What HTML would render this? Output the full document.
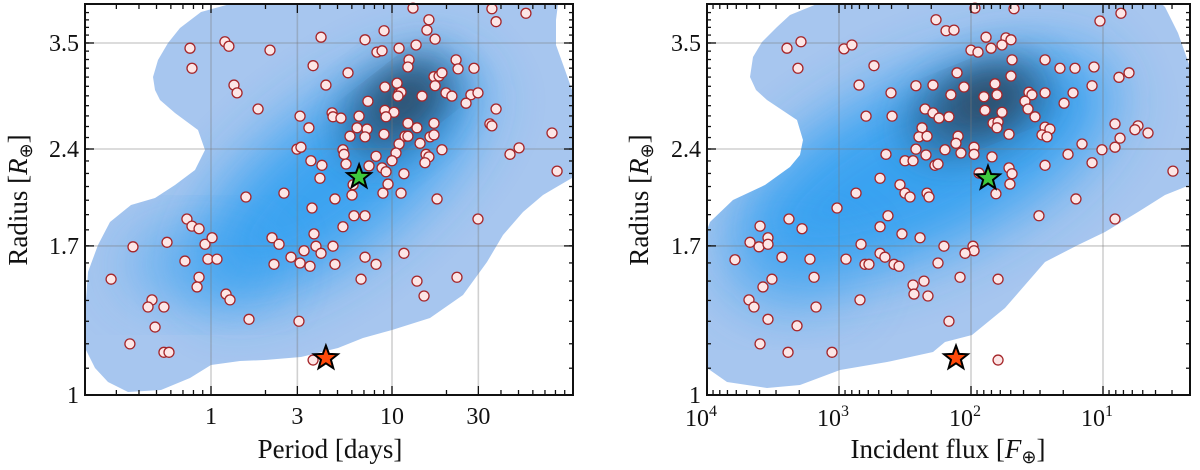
<!DOCTYPE html>
<html><head><meta charset="utf-8"><style>
html,body{margin:0;padding:0;background:#fff;}
svg{display:block;font-family:"Liberation Serif",serif;}
</style></head><body>
<svg id="chart" width="1200" height="470" viewBox="0 0 1200 470" xmlns="http://www.w3.org/2000/svg">
<defs>
<filter id="b35" x="-50%" y="-50%" width="200%" height="200%"><feGaussianBlur stdDeviation="30"/></filter>
<filter id="b22" x="-50%" y="-50%" width="200%" height="200%"><feGaussianBlur stdDeviation="20"/></filter>
<clipPath id="clipL"><polygon points="230,4 201,12 180,28 168,43 158,60 153,77 155,90 160,100 175,113 198,130 205,150 195,170 175,185 155,198 131,205 110,222 98,245 88,272 86,300 86,350 95,368 108,382 128,392 161,390 190,378 211,365 240,361 265,360 301,357 338,348 363,338 392,330 430,318 463,295 487,262 503,235 523,212 543,195 560,185 572,178 572,90 565,70 556,45 556,20 558,4"/></clipPath>
<clipPath id="clipR"><polygon points="817,4 790,15 777,27 762,42 753,57 750,77 756,90 767,100 785,112 797,120 803,140 800,155 790,167 765,185 733,200 710,222 707,230 707,368 727,382 767,388 800,385 840,370 887,362 933,352 945,342 972,335 1005,308 1045,262 1078,245 1105,232 1138,212 1165,195 1190,185 1190,67 1178,33 1165,7 1162,4"/></clipPath>
</defs>
<g id="kdeL" clip-path="url(#clipL)">
<rect x="85" y="4" width="488" height="391" fill="#a7c6ef"/>
<ellipse cx="335" cy="180" rx="175" ry="70" fill="#2f9ff1" opacity="0.9" transform="rotate(-38 335 180)" filter="url(#b35)"/>
<ellipse cx="200" cy="265" rx="75" ry="35" fill="#3aa2f0" opacity="0.6" filter="url(#b35)"/>
<ellipse cx="398" cy="108" rx="65" ry="38" fill="#2f6694" opacity="0.9" transform="rotate(-38 398 108)" filter="url(#b22)"/>
<ellipse cx="405" cy="100" rx="35" ry="20" fill="#2d4356" opacity="0.9" transform="rotate(-38 405 100)" filter="url(#b22)"/>
</g>
<g id="kdeR" clip-path="url(#clipR)">
<rect x="707" y="4" width="484" height="391" fill="#a7c6ef"/>
<ellipse cx="925" cy="165" rx="205" ry="85" fill="#2f9ff1" opacity="0.9" transform="rotate(-25 925 165)" filter="url(#b35)"/>
<ellipse cx="790" cy="270" rx="65" ry="40" fill="#3aa2f0" opacity="0.5" filter="url(#b35)"/>
<ellipse cx="978" cy="108" rx="75" ry="40" fill="#2f6694" opacity="0.9" transform="rotate(-22 978 108)" filter="url(#b22)"/>
<ellipse cx="985" cy="100" rx="40" ry="22" fill="#2d4356" opacity="0.9" transform="rotate(-22 985 100)" filter="url(#b22)"/>
</g>
<g id="grid"></g>
<g id="points"></g>
<g id="axes"></g>
</svg>
<script>
// Left panel: log10(period [days]) and log10(radius [R_earth])
const leftLogPeriod=[-0.116,0.077,0.099,0.326,0.608,-0.105,0.564,0.127,0.144,0.635,0.260,0.492,0.669,0.674,0.541,0.475,0.497,0.552,0.613,0.602,0.193,0.403,0.685,
1.116,1.552,1.740,1.204,1.575,0.956,1.193,0.851,1.238,1.133,1.039,0.917,0.945,1.094,1.088,1.354,1.365,1.453,0.757,1.232,1.260,1.276,1.028,0.961,1.238,1.039,1.050,1.033,1.166,1.298,1.331,1.436,1.475,1.409,0.867,1.575,0.961,1.011,0.967,0.718,0.818,1.088,1.138,1.232,1.541,1.552,0.807,0.862,0.768,0.851,0.956,1.072,1.088,1.210,1.232,1.884,1.039,1.155,1.276,0.729,0.735,0.912,1.022,1.188,1.204,1.652,1.702,0.746,0.873,1.000,1.182,0.945,0.967,1.066,1.912,0.978,0.785,0.779,0.950,1.050,1.249,
0.558,-0.133,-0.105,-0.066,-0.243,-0.431,-0.033,0.006,0.337,0.376,0.569,0.580,0.608,0.514,0.442,0.492,0.547,0.348,0.674,0.685,-0.144,-0.017,0.033,-0.552,-0.066,-0.077,0.083,0.105,-0.326,-0.348,-0.260,-0.309,0.210,0.486,-0.448,-0.260,-0.232,0.564,
0.790,0.851,0.729,1.475,0.851,0.912,1.066,0.829,1.138,1.359,1.177];
const leftLogRadius=[0.536,0.546,0.539,0.533,0.553,0.505,0.509,0.479,0.467,0.479,0.442,0.431,0.436,0.430,0.413,0.380,0.383,0.362,0.355,0.335,0.306,0.312,0.303,
0.598,0.597,0.590,0.580,0.577,0.563,0.564,0.549,0.550,0.541,0.536,0.530,0.532,0.518,0.507,0.518,0.504,0.505,0.498,0.492,0.493,0.498,0.482,0.476,0.478,0.467,0.468,0.462,0.462,0.467,0.462,0.464,0.467,0.451,0.454,0.442,0.440,0.437,0.430,0.428,0.431,0.420,0.413,0.420,0.419,0.416,0.413,0.411,0.400,0.399,0.403,0.400,0.400,0.399,0.402,0.405,0.388,0.389,0.379,0.379,0.372,0.369,0.374,0.372,0.368,0.372,0.382,0.357,0.354,0.362,0.359,0.351,0.345,0.342,0.346,0.326,0.325,0.309,0.312,0.312,0.303,
0.289,0.272,0.261,0.257,0.236,0.229,0.233,0.243,0.243,0.233,0.249,0.230,0.219,0.223,0.213,0.204,0.199,0.202,0.230,0.202,0.207,0.210,0.210,0.179,0.182,0.167,0.156,0.147,0.147,0.136,0.136,0.105,0.117,0.114,0.079,0.066,0.066,0.054,
0.277,0.277,0.260,0.272,0.213,0.202,0.219,0.179,0.176,0.182,0.153];
// Right panel: log10(incident flux [F_earth]) and log10(radius)
const rightLogFlux=[2.265,2.189,3.288,3.394,2.962,2.902,3.311,2.735,2.848,2.606,2.417,2.288,2.152,2.795,2.598,2.348,2.288,2.242,2.167,2.371,2.394,2.333,2.417,2.341,2.197,2.644,2.500,2.439,2.273,2.250,2.689,2.538,2.871,2.500,2.462,2.333,2.318,
1.970,1.674,1.023,0.864,2.129,1.886,1.735,1.697,1.765,1.848,2.000,1.947,1.689,1.439,1.326,1.212,1.068,2.106,0.879,0.803,1.697,1.818,2.053,1.083,1.902,1.803,1.561,1.538,1.591,1.439,1.227,1.295,1.568,1.894,1.765,1.515,1.833,1.795,1.803,1.712,1.439,1.402,1.462,1.424,0.909,0.735,0.758,0.659,0.871,2.098,2.114,1.159,1.008,0.909,1.977,1.977,2.076,1.841,1.265,1.083,1.439,1.712,1.689,1.939,1.705,0.470,1.811,1.205,
3.015,3.379,3.598,3.280,3.674,3.606,3.538,3.538,3.788,3.432,3.220,3.508,3.576,3.189,3.682,3.644,3.174,3.538,3.318,3.598,3.386,3.053,2.629,2.689,2.523,2.386,2.205,2.833,2.947,2.689,2.652,2.803,2.773,2.583,2.545,2.250,2.439,2.356,2.432,2.326,2.841,2.167,
1.485,0.909,1.985,1.977,2.045,2.083,1.795,1.795];
const rightLogRadius=[0.580,0.563,0.546,0.536,0.535,0.541,0.505,0.509,0.479,0.467,0.478,0.479,0.464,0.431,0.431,0.442,0.436,0.428,0.430,0.413,0.399,0.400,0.380,0.371,0.379,0.372,0.362,0.362,0.355,0.357,0.335,0.325,0.312,0.312,0.306,0.312,0.306,
0.598,0.597,0.578,0.590,0.564,0.553,0.552,0.549,0.541,0.536,0.533,0.530,0.518,0.518,0.505,0.505,0.507,0.498,0.491,0.498,0.493,0.481,0.476,0.478,0.461,0.464,0.468,0.464,0.454,0.467,0.467,0.451,0.442,0.440,0.437,0.430,0.420,0.422,0.413,0.403,0.414,0.411,0.402,0.399,0.419,0.416,0.410,0.405,0.397,0.400,0.389,0.388,0.379,0.383,0.383,0.372,0.374,0.368,0.372,0.359,0.355,0.351,0.342,0.343,0.326,0.346,0.311,0.303,
0.289,0.272,0.261,0.257,0.236,0.229,0.243,0.233,0.209,0.213,0.210,0.179,0.167,0.182,0.147,0.136,0.136,0.117,0.107,0.079,0.066,0.066,0.277,0.260,0.249,0.243,0.230,0.233,0.210,0.219,0.213,0.202,0.202,0.202,0.199,0.204,0.170,0.176,0.156,0.153,0.147,0.114,
0.277,0.272,0.230,0.223,0.219,0.182,0.179,0.054];
// highlighted targets: [green, orange]
const starLogPeriod=[0.818,0.635];
const starLogFluxR=[1.871,2.114];
const starLogRadius=[0.337,0.057];
const starLogRadiusR=[0.335,0.057];
const starColors=["#3ec93e","#ff4a0a"];
const periodTicks=[1,3,10,30];
const periodTickLabels=["1","3","10","30"];
const fluxTicks=[4,3,2,1];
const radiusTicks=[1,1.7,2.4,3.5];
const radiusTickLabels=["1","1.7","2.4","3.5"];

const NS="http://www.w3.org/2000/svg";
const LX0=85,LX1=573,RX0=707,RX1=1190,Y0=4,Y1=395;
const xL=lp=>211+181*lp;
const xR=lf=>707+132*(4-lf);
const yS=lr=>395-647*lr;
function mk(tag,attrs,parent){const e=document.createElementNS(NS,tag);for(const k in attrs)e.setAttribute(k,attrs[k]);parent.appendChild(e);return e;}
const grid=document.getElementById('grid'),pts=document.getElementById('points'),axes=document.getElementById('axes');
const gs={stroke:"rgba(120,120,120,0.35)","stroke-width":1.6};
periodTicks.forEach(p=>{const x=xL(Math.log10(p));const l=mk('line',Object.assign({x1:x,x2:x,y1:Y0,y2:Y1},gs),grid);

});
fluxTicks.forEach(f=>{const x=xR(f);if(x<=RX0+1)return;const l=mk('line',Object.assign({x1:x,x2:x,y1:Y0,y2:Y1},gs),grid);

});
radiusTicks.forEach(r=>{const y=yS(Math.log10(r));if(y>=Y1-1)return;[[LX0,LX1],[RX0,RX1]].forEach(([a,b])=>{const l=mk('line',Object.assign({x1:a,x2:b,y1:y,y2:y},gs),grid);

});});
function dot(x,y,name){const c=mk('circle',{cx:x,cy:y,r:5,fill:"#fde6e6",stroke:"#a5262a","stroke-width":1.3},pts);

}
leftLogPeriod.forEach((p,i)=>dot(xL(p),yS(leftLogRadius[i]),'planet-point-left'));
rightLogFlux.forEach((f,i)=>dot(xR(f),yS(rightLogRadius[i]),'planet-point-right'));
function star(cx,cy,col,name){let d="";for(let k=0;k<10;k++){const r=k%2?5.2:12.5;const a=-Math.PI/2+k*Math.PI/5;d+=(k?"L":"M")+(cx+r*Math.cos(a)).toFixed(1)+","+(cy+r*Math.sin(a)).toFixed(1);}
const s=mk('path',{d:d+"Z",fill:col,stroke:"#000","stroke-width":2,"stroke-linejoin":"miter"},pts);

}
starLogPeriod.forEach((p,i)=>star(xL(p),yS(starLogRadius[i]),starColors[i],i?'target-star-orange-left':'target-star-green-left'));
starLogFluxR.forEach((f,i)=>star(xR(f),yS(starLogRadiusR[i]),starColors[i],i?'target-star-orange-right':'target-star-green-right'));
[[LX0,LX1,'frame-left'],[RX0,RX1,'frame-right']].forEach(([a,b,n])=>{const r=mk('rect',{x:a,y:Y0,width:b-a,height:Y1-Y0,fill:"none",stroke:"#111","stroke-width":2},axes);

});
function tick(x1,y1,x2,y2){mk('line',{x1,y1,x2,y2,stroke:"#111","stroke-width":1.3},axes);}
function txt(x,y,s,size,anchor,name){const t=mk('text',{x,y,"font-size":size,"text-anchor":anchor,fill:"#111"},axes);t.textContent=s;

return t;}
for(let e=-1;e<=1;e++)for(let m=1;m<10;m++){const v=m*Math.pow(10,e);const x=xL(Math.log10(v));if(x<LX0||x>LX1)continue;const maj=periodTicks.includes(Math.round(v*1000)/1000);const L=maj?9:5;tick(x,Y1,x,Y1-L);tick(x,Y0,x,Y0+L);}
periodTicks.forEach((p,i)=>txt(xL(Math.log10(p)),424,periodTickLabels[i],24,"middle","x-tick-label-left"));
for(let e=0;e<4;e++)for(let m=1;m<10;m++){const lf=e+Math.log10(m);const x=xR(lf);if(x<RX0||x>RX1)continue;const L=m===1?9:5;tick(x,Y1,x,Y1-L);tick(x,Y0,x,Y0+L);}
{const x=xR(4);tick(x,Y1,x,Y1-9);}
fluxTicks.forEach(f=>{const x=xR(f);const t=txt(x-6,426,"10",24,"middle","x-tick-label-right");const s=mk('tspan',{dy:-10,"font-size":16},t);s.textContent=String(f);});
[LX0,RX0].forEach((ax,j)=>{const bx=j?RX1:LX1;radiusTicks.forEach((r,i)=>{const y=yS(Math.log10(r));tick(ax,y,ax+9,y);tick(bx,y,bx-9,y);txt(ax-6,y+8,radiusTickLabels[i],24,"end",j?"y-tick-label-right":"y-tick-label-left");});
for(let v=1.1;v<4;v+=0.1){const y=yS(Math.log10(v));if(y<Y0)break;tick(ax,y,ax+4,y);tick(bx,y,bx-4,y);}});
txt(330,458,"Period [days]",27,"middle","x-axis-title-left");
[[27,"y-axis-title-left"],[648,"y-axis-title-right"]].forEach(([x,n])=>{const t=mk('text',{x:0,y:0,"font-size":27,"text-anchor":"middle",fill:"#111",transform:`translate(${x},200) rotate(-90)`},axes);


t.appendChild(document.createTextNode("Radius ["));const a=mk('tspan',{"font-style":"italic"},t);a.textContent="R";const b=mk('tspan',{dy:5,"font-size":18},t);b.textContent="⊕";const c=mk('tspan',{dy:-5},t);c.textContent="]";});
{const t=txt(948,458,"Incident flux [",27,"middle","x-axis-title-right");const a=mk('tspan',{"font-style":"italic"},t);a.textContent="F";const b=mk('tspan',{dy:5,"font-size":18},t);b.textContent="⊕";const c=mk('tspan',{dy:-5},t);c.textContent="]";}
</script>
</body></html>
